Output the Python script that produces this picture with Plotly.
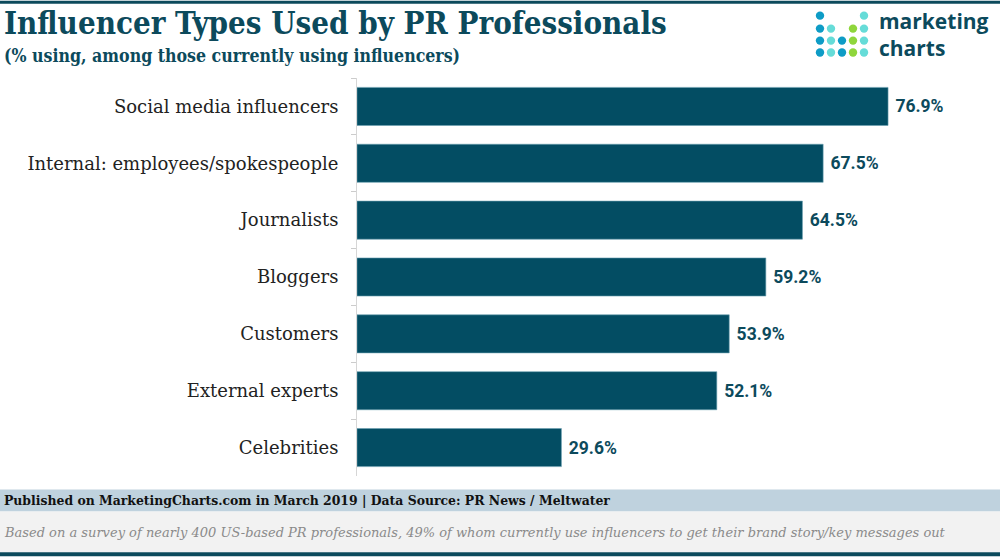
import plotly.graph_objects as go

categories = ["Social media influencers", "Internal: employees/spokespeople", "Journalists",
              "Bloggers", "Customers", "External experts", "Celebrities"]
values = [76.9, 67.5, 64.5, 59.2, 53.9, 52.1, 29.6]
value_labels = [f" {v:.1f}%" for v in values]

TEAL = "#034d63"
DARK = "#0c4a5c"
SERIF_C = "DejaVu Serif Condensed, DejaVu Serif, serif"
SERIF = "DejaVu Serif, serif"

fig = go.Figure(go.Bar(
    y=categories, x=values, orientation="h",
    marker=dict(color=TEAL, line=dict(color="#6a9fb0", width=0.6)),
    width=0.67,
    text=value_labels, textposition="outside", cliponaxis=False,
    textfont=dict(family="Roboto, Arial, sans-serif", size=17.5, color=DARK, weight="bold"),
    hoverinfo="skip",
))

L, R, T, B = 357, 56, 77.5, 80.5
PW, PH = 1000 - L - R, 557 - T - B
def px(x): return (x - L) / PW
def py(y): return (557 - B - y) / PH

fig.update_layout(
    width=1000, height=557,
    margin=dict(l=L, r=R, t=T, b=B),
    paper_bgcolor="white", plot_bgcolor="white",
    showlegend=False,
    xaxis=dict(range=[0, 85], visible=False, fixedrange=True),
    yaxis=dict(autorange="reversed", type="category", tickson="boundaries",
               ticks="outside", ticklen=5, tickcolor="#cccccc",
               showline=True, linecolor="#d6d6d6", linewidth=1,
               ticklabelstandoff=14,
               tickfont=dict(family=SERIF, size=18, color="#222222"),
               showgrid=False),
)

shapes = [
    dict(type="rect", xref="paper", yref="paper", x0=px(0), x1=px(1000), y0=py(0), y1=py(3),
         fillcolor=DARK, line_width=0),
    dict(type="rect", xref="paper", yref="paper", x0=px(0), x1=px(1000), y0=py(490), y1=py(512),
         fillcolor="#bfd2de", line_width=0),
    dict(type="rect", xref="paper", yref="paper", x0=px(0), x1=px(1000), y0=py(512), y1=py(553),
         fillcolor="#f2f2f2", line_width=0),
    dict(type="rect", xref="paper", yref="paper", x0=px(0), x1=px(1000), y0=py(553), y1=py(557),
         fillcolor=DARK, line_width=0),
]

BLUE, LT, GRN = "#0e9cc6", "#66dcd8", "#8fd63c"
dot_rows = [
    [BLUE, None, None, None, LT],
    [BLUE, LT, None, GRN, LT],
    [BLUE, LT, BLUE, GRN, LT],
    [BLUE, LT, BLUE, GRN, LT],
]
cols_x = [820, 831, 842, 853, 864]
rows_y = [15, 28, 40, 52]
r = 4.2
for ri, row in enumerate(dot_rows):
    for ci, c in enumerate(row):
        if c is None:
            continue
        cx, cy = cols_x[ci], rows_y[ri]
        shapes.append(dict(type="circle", xref="paper", yref="paper",
                           x0=px(cx - r), x1=px(cx + r), y0=py(cy + r), y1=py(cy - r),
                           fillcolor=c, line_width=0))

annotations = [
    dict(text="<b>Influencer Types Used by PR Professionals</b>", xref="paper", yref="paper",
         x=px(2), y=py(22), xanchor="left", yanchor="middle", showarrow=False,
         font=dict(family=SERIF_C, size=31, color=DARK)),
    dict(text="<b>(% using, among those currently using influencers)</b>", xref="paper", yref="paper",
         x=px(2), y=py(55), xanchor="left", yanchor="middle", showarrow=False,
         font=dict(family=SERIF_C, size=17.6, color=DARK)),
    dict(text="<b>marketing<br>charts</b>", xref="paper", yref="paper",
         x=px(877), y=py(34), xanchor="left", yanchor="middle", align="left", showarrow=False,
         font=dict(family="Open Sans, sans-serif", size=21, color=DARK)),
    dict(text="<b>Published on MarketingCharts.com in March 2019 | Data Source: PR News / Meltwater</b>",
         xref="paper", yref="paper", x=px(2), y=py(501), xanchor="left", yanchor="middle",
         showarrow=False, font=dict(family=SERIF_C, size=13.8, color="#111111")),
    dict(text="<i>Based on a survey of nearly 400 US-based PR professionals, 49% of whom currently use influencers to get their brand story/key messages out</i>",
         xref="paper", yref="paper", x=px(2), y=py(533), xanchor="left", yanchor="middle",
         showarrow=False, font=dict(family=SERIF, size=13, color="#8a8a8a")),
]

fig.update_layout(shapes=shapes, annotations=annotations)
fig.write_html("out.html")
